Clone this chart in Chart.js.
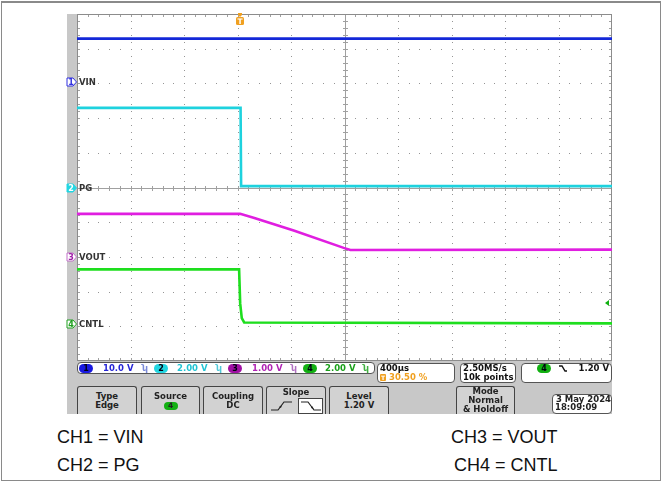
<!DOCTYPE html>
<html><head><meta charset="utf-8">
<script src="https://cdn.jsdelivr.net/npm/chart.js@4.4.1/dist/chart.umd.min.js"></script>
<style>
html,body{margin:0;padding:0;background:#fff;}
body{width:662px;height:481px;position:relative;overflow:hidden;font-family:"DejaVu Sans",sans-serif;}
.abs{position:absolute;}
#frame{left:1px;top:1px;width:660px;height:480px;border:1px solid #8a8a8a;border-top:2px solid #8a8a8a;box-sizing:border-box;}
.panel{background:#c8c8c8;}
#c{position:absolute;left:0;top:0;z-index:2;}
.top{z-index:3;}
.box{background:#fff;border:1px solid #555;border-radius:4px;box-sizing:border-box;}
.st{font-weight:bold;font-size:8.5px;line-height:9px;white-space:nowrap;}
.pill{height:9px;border-radius:5px;text-align:center;font-weight:bold;font-size:8px;line-height:9px;color:#001;}
.btn{background:#d2d2d2;border:1px solid #444;border-bottom:none;border-radius:3px 3px 0 0;box-sizing:border-box;text-align:center;font-weight:bold;font-size:8.5px;line-height:9px;color:#222;padding-top:5px;}
.lab{font-family:"Liberation Sans",Arial,sans-serif;font-size:18px;color:#111;line-height:20px;white-space:nowrap;}
.chl{font-weight:bold;font-size:8.5px;color:#333;line-height:10px;}
</style>
</head><body>
<div id="frame" class="abs"></div>
<div class="abs panel" style="left:67px;top:14px;width:10px;height:348px;"></div>
<div class="abs panel" style="left:67px;top:361px;width:545px;height:53px;"></div>
<canvas id="c" width="662" height="481"></canvas>

<!-- status bar -->
<div class="abs box top" style="left:77px;top:362px;width:298px;height:12px;"></div>
<div class="abs pill top" style="left:79px;top:363.5px;width:14px;background:#1818e0;">1</div>
<div class="abs st top" style="left:103px;top:363.5px;color:#2626d6;">10.0 V</div>
<div class="abs st top" style="left:142px;top:363.5px;color:#7a8ad8;">ʮ</div>
<div class="abs pill top" style="left:154px;top:363.5px;width:14px;background:#22d6e2;">2</div>
<div class="abs st top" style="left:177px;top:363.5px;color:#22c4d4;">2.00 V</div>
<div class="abs st top" style="left:216px;top:363.5px;color:#50c8d8;">ʮ</div>
<div class="abs pill top" style="left:228px;top:363.5px;width:14px;background:#a010a4;">3</div>
<div class="abs st top" style="left:252px;top:363.5px;color:#b024b4;">1.00 V</div>
<div class="abs st top" style="left:291px;top:363.5px;color:#b070c0;">ʮ</div>
<div class="abs pill top" style="left:303px;top:363.5px;width:14px;background:#12b012;">4</div>
<div class="abs st top" style="left:325px;top:363.5px;color:#1aa01a;">2.00 V</div>
<div class="abs st top" style="left:363px;top:363.5px;color:#40b040;">ʮ</div>

<div class="abs box top" style="left:377px;top:363px;width:78px;height:20px;"></div>
<div class="abs st top" style="left:380px;top:364px;color:#111;">400µs</div>
<div class="abs top" style="left:380px;top:374px;width:6px;height:7px;background:#f0a020;border-radius:1px;color:#fff;font-size:6px;line-height:7px;text-align:center;font-weight:bold;">T</div>
<div class="abs st top" style="left:389px;top:373px;color:#f0a020;">30.50 %</div>

<div class="abs box top" style="left:460px;top:363px;width:56px;height:20px;"></div>
<div class="abs st top" style="left:463px;top:364px;color:#111;">2.50MS/s</div>
<div class="abs st top" style="left:463px;top:373px;color:#111;">10k points</div>

<div class="abs box top" style="left:521px;top:363px;width:91px;height:20px;"></div>
<div class="abs pill top" style="left:537px;top:364px;width:14px;background:#12b012;">4</div>
<svg class="abs top" style="left:558px;top:364px;" width="10" height="9"><path d="M1,2 L4,2 L7,7 L9,7" stroke="#111" stroke-width="1.4" fill="none"/></svg>
<div class="abs st top" style="left:578px;top:364px;width:31px;text-align:right;color:#111;">1.20 V</div>

<!-- buttons -->
<div class="abs btn top" style="left:77px;top:386px;width:60px;height:28px;">Type<br>Edge</div>
<div class="abs btn top" style="left:141px;top:386px;width:59px;height:28px;">Source<br><span style="display:inline-block;width:14px;height:8px;border-radius:4px;background:#12b012;font-size:7.5px;line-height:8px;margin-top:1px;">4</span></div>
<div class="abs btn top" style="left:203px;top:386px;width:60px;height:28px;">Coupling<br>DC</div>
<div class="abs btn top" style="left:266px;top:386px;width:60px;height:28px;padding-top:1px;">Slope</div>
<svg class="abs top" style="left:268px;top:398px;" width="56" height="16">
  <path d="M3,12 L10,12 L16,4 L24,4" stroke="#222" stroke-width="1.2" fill="none"/>
  <path d="M11,9 L14,7 L13,10 Z" fill="#222"/>
  <rect x="30.5" y="0.5" width="24" height="15" fill="#fff" stroke="#444"/>
  <path d="M33,4 L40,4 L46,12 L53,12" stroke="#222" stroke-width="1.2" fill="none"/>
  <path d="M44,8 L46,11 L43,10 Z" fill="#222"/>
</svg>
<div class="abs btn top" style="left:329px;top:386px;width:60px;height:28px;">Level<br>1.20 V</div>
<div class="abs btn top" style="left:456px;top:386px;width:59px;height:28px;padding-top:0px;">Mode<br>Normal<br>&amp; Holdoff</div>
<div class="abs box top" style="left:552px;top:394px;width:60px;height:20px;"></div>
<div class="abs st top" style="left:556px;top:394.5px;width:53px;text-align:right;color:#222;">3 May 2024</div>
<div class="abs st top" style="left:555px;top:403px;color:#222;">18:09:09</div>

<!-- trigger markers -->
<svg id="trigT" class="abs top" style="left:235px;top:13px;" width="10" height="13">
  <path d="M3,0 L7,0 L7,2 L5,4 L3,2 Z" fill="#f0a020"/>
  <rect x="1" y="4" width="8" height="8" rx="1.5" fill="#f0a020"/>
  <text x="5" y="11" font-family="DejaVu Sans" font-weight="bold" font-size="7.5" fill="#fff" text-anchor="middle">T</text>
</svg>
<svg id="trigL" class="abs top" style="left:604px;top:300px;" width="6" height="8">
  <path d="M1,4 L5,1 L5,7 Z" fill="#10b010"/>
</svg>

<!-- channel markers -->
<div id="chm"></div>

<!-- captions -->
<div class="abs lab" style="left:57px;top:427px;">CH1 = VIN</div>
<div class="abs lab" style="left:57px;top:455px;">CH2 = PG</div>
<div class="abs lab" style="left:451px;top:427px;">CH3 = VOUT</div>
<div class="abs lab" style="left:454px;top:455px;">CH4 = CNTL</div>

<script>
// ---- data ----
const TIME_PER_DIV_US = 400;          // horizontal scale
const TRIGGER_POSITION = 0.305;       // 30.50 %
const H_DIVS = 10;
const V_DIVS = 10;
const channelNames = ["VIN", "PG", "VOUT", "CNTL"];
const channelColors = ["#1428d8", "#1ed2de", "#e01ee0", "#1ede1e"];
const voltsPerDiv = [10, 2, 1, 2];
const offsetDivs = [3.05, 0, -2.0, -3.94];   // ground marker positions (divisions from centre)

const vinTime  = [-1220, 2780];
const vinVolts = [12.4, 12.4];

const pgTime  = [-1220, 3, 7, 2780];
const pgVolts = [4.59, 4.59, 0.08, 0.08];

const voutTime  = [-1220, 0, 100, 400, 774, 824, 2780];
const voutVolts = [1.24, 1.24, 1.13, 0.76, 0.26, 0.20, 0.21];

const cntlTime  = [-1220, -8, 0, 12, 30, 2780];
const cntlVolts = [3.16, 3.16, 1.2, 0.35, 0.10, 0.05];

const triggerLevelVolts = 1.20;   // on CH4

// ---- build ----
const xMin = -TRIGGER_POSITION * H_DIVS * TIME_PER_DIV_US;
const xMax = xMin + H_DIVS * TIME_PER_DIV_US;
const series = [[vinTime, vinVolts], [pgTime, pgVolts], [voutTime, voutVolts], [cntlTime, cntlVolts]];

const datasets = series.map(([t, v], i) => ({
  label: channelNames[i],
  data: t.map((tt, k) => ({ x: tt, y: offsetDivs[i] + v[k] / voltsPerDiv[i] })),
  borderColor: channelColors[i],
  borderWidth: 2.6,
  pointRadius: 0,
  tension: 0,
  fill: false,
  order: 4 - i
}));

const gridPlugin = {
  id: 'tekGrid',
  beforeDatasetsDraw(chart) {
    const ctx = chart.ctx, xs = chart.scales.x, ys = chart.scales.y;
    const a = chart.chartArea;
    ctx.save();
    ctx.fillStyle = '#fff';
    ctx.fillRect(a.left, a.top, a.right - a.left, a.bottom - a.top);
    // dotted major lines
    ctx.fillStyle = '#959595';
    for (let i = 1; i < H_DIVS; i++) {
      if (i === H_DIVS / 2) continue;
      const px = Math.round(xs.getPixelForValue(xMin + i * TIME_PER_DIV_US));
      for (let k = 1; k < V_DIVS * 5; k++) {
        const py = Math.round(ys.getPixelForValue(-V_DIVS / 2 + k * 0.2));
        ctx.fillRect(px, py, 1, 1);
      }
    }
    for (let j = 1; j < V_DIVS; j++) {
      if (j === V_DIVS / 2) continue;
      const py = Math.round(ys.getPixelForValue(-V_DIVS / 2 + j));
      for (let k = 1; k < H_DIVS * 5; k++) {
        const px = Math.round(xs.getPixelForValue(xMin + k * TIME_PER_DIV_US / 5));
        ctx.fillRect(px, py, 1, 1);
      }
    }
    // centre lines with ticks
    ctx.strokeStyle = '#a0a0a0';
    ctx.lineWidth = 1;
    const cx = Math.round(xs.getPixelForValue(xMin + H_DIVS / 2 * TIME_PER_DIV_US)) + 0.5;
    const cy = Math.round(ys.getPixelForValue(0)) + 0.5;
    ctx.beginPath();
    ctx.moveTo(cx, a.top); ctx.lineTo(cx, a.bottom);
    ctx.moveTo(a.left, cy); ctx.lineTo(a.right, cy);
    for (let k = 1; k < V_DIVS * 5; k++) {
      const py = Math.round(ys.getPixelForValue(-V_DIVS / 2 + k * 0.2)) + 0.5;
      ctx.moveTo(cx - 2.5, py); ctx.lineTo(cx + 2.5, py);
      ctx.moveTo(a.left, py); ctx.lineTo(a.left + 3, py);
      ctx.moveTo(a.right, py); ctx.lineTo(a.right - 3, py);
    }
    for (let k = 1; k < H_DIVS * 5; k++) {
      const px = Math.round(xs.getPixelForValue(xMin + k * TIME_PER_DIV_US / 5)) + 0.5;
      ctx.moveTo(px, cy - 2.5); ctx.lineTo(px, cy + 2.5);
      ctx.moveTo(px, a.top); ctx.lineTo(px, a.top + 3);
      ctx.moveTo(px, a.bottom); ctx.lineTo(px, a.bottom - 3);
    }
    ctx.stroke();
    ctx.strokeStyle = '#8c8c8c';
    ctx.strokeRect(a.left + 0.5, a.top + 0.5, a.right - a.left - 1, a.bottom - a.top - 1);
    ctx.restore();
  }
};

const chart = new Chart(document.getElementById('c'), {
  type: 'line',
  data: { datasets },
  options: {
    responsive: false,
    animation: false,
    devicePixelRatio: 1,
    layout: { padding: { left: 77, top: 14, right: 50, bottom: 120 } },
    plugins: { legend: { display: false }, tooltip: { enabled: false } },
    scales: {
      x: { type: 'linear', min: xMin, max: xMax, display: false },
      y: { type: 'linear', min: -V_DIVS / 2, max: V_DIVS / 2, display: false }
    }
  },
  plugins: [gridPlugin]
});

// channel ground markers and labels, placed with the chart's y scale
const ys = chart.scales.y, xs = chart.scales.x;
const markerStyles = [
  { fill: '#fff', stroke: '#3030e0', text: '#3030e0' },
  { fill: '#22d6e2', stroke: '#22d6e2', text: '#fff' },
  { fill: '#fff', stroke: '#c070c8', text: '#a020a8' },
  { fill: '#fff', stroke: '#20a020', text: '#20a020' }
];
let html = '';
offsetDivs.forEach((d, i) => {
  const py = ys.getPixelForValue(d);
  const m = markerStyles[i];
  html += `<svg class="abs top" style="left:66px;top:${py - 5}px;" width="12" height="10">
    <path d="M1,1 L7,1 L10.5,5 L7,9 L1,9 Z" fill="${m.fill}" stroke="${m.stroke}" stroke-width="1"/>
    <text x="5" y="8" font-family="DejaVu Sans" font-weight="bold" font-size="8" fill="${m.text}" text-anchor="middle">${i + 1}</text></svg>
    <div class="abs chl top" style="left:79px;top:${py - 5}px;">${channelNames[i]}</div>`;
});
document.getElementById('chm').innerHTML = html;
const tx = xs.getPixelForValue(0);
document.getElementById('trigT').style.left = (tx - 5) + 'px';
const ly = ys.getPixelForValue(offsetDivs[3] + triggerLevelVolts / voltsPerDiv[3]);
document.getElementById('trigL').style.top = (ly - 4) + 'px';
</script>
</body></html>
